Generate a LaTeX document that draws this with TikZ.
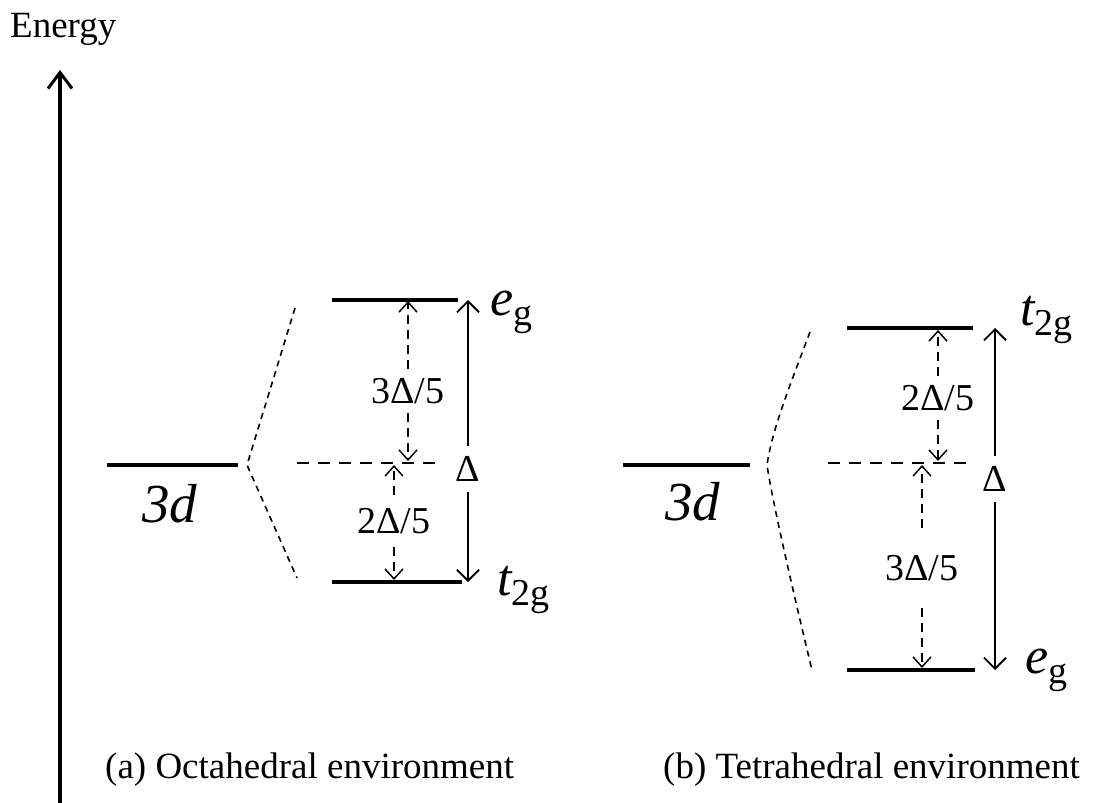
\documentclass[tikz,border=0pt]{standalone}
\usepackage{fontspec}
\setmainfont{Liberation Serif}
\usetikzlibrary{arrows.meta}
\newcommand{\sublbl}[2]{{\fontsize{52}{52}\selectfont\itshape #1}\raisebox{-10pt}{\fontsize{38}{38}\selectfont #2}}
\begin{document}
\begin{tikzpicture}[x=1pt,y=-1pt,
  level/.style={line width=3.8pt},
  split/.style={line width=1.6pt, dash pattern=on 6pt off 5pt},
  refline/.style={line width=1.6pt, dash pattern=on 12pt off 9pt},
  gaparrow/.style={line width=2pt, -{Straight Barb[length=11pt,width=22pt,line width=1.8pt]}},
  partarrow/.style={line width=1.6pt, dash pattern=on 9pt off 6pt, -{Straight Barb[length=10pt,width=18pt,line width=1.5pt]}},
  axisline/.style={line width=3.2pt, -{Straight Barb[length=16pt,width=24pt,line width=3pt]}},
  fraclbl/.style={font=\fontsize{38}{38}\selectfont, inner sep=0pt, minimum height=44pt},
  deltalbl/.style={font=\fontsize{38}{38}\selectfont, inner sep=0pt, minimum height=46pt},
  big/.style={font=\fontsize{55}{55}\selectfont\itshape, inner sep=0pt, anchor=base west},
  caption/.style={font=\fontsize{37}{37}\selectfont, inner sep=0pt, anchor=base west},
  orb/.style={inner sep=0pt, anchor=base west}
]
\useasboundingbox (0,0) rectangle (1093,803);
% axis
\node[caption, font=\fontsize{37}{37}\selectfont] (energy) at (10,37) {Energy};
\coordinate (axb) at (60,803);
\coordinate (axt) at (60,70);
\draw[axisline] (axb) -- (axt);

% ---------- octahedral ----------
\coordinate (o3l) at (107,465); \coordinate (o3r) at (238,465);
\draw[level] (o3l) -- (o3r);
\node[big] (o3d) at (142,522) {3d};
\coordinate (ov) at (247,465);
\coordinate (ou) at (295,308);
\coordinate (od) at (297,578);
\draw[split] (ou) -- (ov) -- (od);
\coordinate (oe1) at (332,300); \coordinate (oe2) at (458,300);
\coordinate (ot1) at (332,582); \coordinate (ot2) at (462,582);
\draw[level] (oe1) -- (oe2);
\draw[level] (ot1) -- (ot2);
\coordinate (or1) at (297,463); \coordinate (or2) at (443,463);
\draw[refline] (or1) -- (or2);
% Delta
\node[deltalbl] (oD) at (468,469) {Δ};
\coordinate (oDt) at (468,300); \coordinate (oDb) at (468,582);
\draw[gaparrow] (oD.north) -- (oDt);
\draw[gaparrow] (oD.south) -- (oDb);
% 3Delta/5
\node[fraclbl] (o35) at (408,391) {3Δ/5};
\coordinate (o35t) at (408,301); \coordinate (o35b) at (408,461);
\draw[partarrow] (o35.north) -- (o35t);
\draw[partarrow] (o35.south) -- (o35b);
% 2Delta/5
\node[fraclbl, minimum height=52pt] (o25) at (394,521) {2Δ/5};
\coordinate (o25t) at (394,465); \coordinate (o25b) at (394,580);
\draw[partarrow] (o25.north) -- (o25t);
\draw[partarrow] (o25.south) -- (o25b);
\node[orb] (oeg) at (490,315) {\sublbl{e}{g}};
\node[orb] (ot2g) at (497,595) {\sublbl{t}{2g}};
\node[caption] (capa) at (105,778) {(a) Octahedral environment};

% ---------- tetrahedral ----------
\coordinate (t3l) at (623,465); \coordinate (t3r) at (750,465);
\draw[level] (t3l) -- (t3r);
\node[big] (t3d) at (665,520) {3d};
\coordinate (tv) at (767,465);
\coordinate (tu) at (810,332);
\coordinate (td) at (812,670);
\draw[split] (tu) .. controls (790,385) and (772,430) .. (tv) .. controls (772,500) and (795,600) .. (td);
\coordinate (tt1) at (847,328); \coordinate (tt2) at (973,328);
\coordinate (te1) at (847,670); \coordinate (te2) at (975,670);
\draw[level] (tt1) -- (tt2);
\draw[level] (te1) -- (te2);
\coordinate (tr1) at (828,463); \coordinate (tr2) at (972,463);
\draw[refline] (tr1) -- (tr2);
% Delta
\node[deltalbl] (tD) at (995,479) {Δ};
\coordinate (tDt) at (995,328); \coordinate (tDb) at (995,670);
\draw[gaparrow] (tD.north) -- (tDt);
\draw[gaparrow] (tD.south) -- (tDb);
% 2Delta/5
\node[fraclbl] (t25) at (938,398) {2Δ/5};
\coordinate (t25t) at (938,330); \coordinate (t25b) at (938,461);
\draw[partarrow] (t25.north) -- (t25t);
\draw[partarrow] (t25.south) -- (t25b);
% 3Delta/5
\node[fraclbl, minimum height=80pt] (t35) at (922,568) {3Δ/5};
\coordinate (t35t) at (922,465); \coordinate (t35b) at (922,668);
\draw[partarrow] (t35.north) -- (t35t);
\draw[partarrow] (t35.south) -- (t35b);
\node[orb] (tt2g) at (1020,325) {\sublbl{t}{2g}};
\node[orb] (teg) at (1025,673) {\sublbl{e}{g}};
\node[caption] (capb) at (663,778) {(b) Tetrahedral environment};
\end{tikzpicture}
\end{document}
